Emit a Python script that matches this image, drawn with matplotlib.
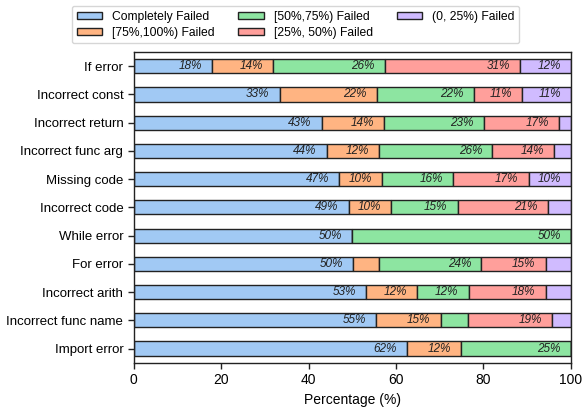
import matplotlib
matplotlib.use("Agg")
import matplotlib.pyplot as plt
import numpy as np

categories = ["If error", "Incorrect const", "Incorrect return", "Incorrect func arg",
              "Missing code", "Incorrect code", "While error", "For error",
              "Incorrect arith", "Incorrect func name", "Import error"]
series_names = ["Completely Failed", "[75%,100%) Failed", "[50%,75%) Failed",
                "[25%, 50%) Failed", "(0, 25%) Failed"]
completely = [17.9, 33.4, 43.0, 44.1, 47.0, 49.2, 50.0, 50.2, 53.1, 55.4, 62.4]
p75_100 = [14.0, 22.2, 14.2, 12.0, 9.8, 9.7, 0.0, 5.8, 11.7, 14.8, 12.5]
p50_75 = [25.6, 22.2, 22.9, 25.9, 16.2, 15.2, 50.0, 23.5, 11.8, 6.3, 25.1]
p25_50 = [30.8, 11.1, 17.2, 14.1, 17.3, 20.6, 0.0, 14.7, 17.6, 19.2, 0.0]
p0_25 = [11.7, 11.1, 2.7, 3.9, 9.7, 5.3, 0.0, 5.8, 5.8, 4.3, 0.0]

colors = ["#a1c9f4", "#ffb482", "#8de5a1", "#ff9f9b", "#d0bbff"]

plt.rcParams['font.family'] = ['Liberation Sans', 'DejaVu Sans']

fig = plt.figure(figsize=(5.82, 4.07), dpi=100)
ax = fig.add_axes([0.2297, 0.109, 0.981 - 0.2297, 0.872 - 0.109])

y = np.arange(len(categories))
left = np.zeros(len(categories))
handles = []
for name, vals, c in zip(series_names, [completely, p75_100, p50_75, p25_50, p0_25], colors):
    vals = np.array(vals)
    bars = ax.barh(y, vals, left=left, height=0.5, color=c, edgecolor="#222222",
                   linewidth=1.0, label=name)
    handles.append(bars)
    for yi, l, v in zip(y, left, vals):
        if round(v) >= 10:
            ax.text(l + v - 2.3, yi, f"{v:.0f}%", ha="right", va="center",
                    fontsize=8.5, style="italic", color="#222222")
    left = left + vals

ax.set_yticks(y)
ax.set_yticklabels(categories, fontsize=9.5)
ax.set_ylim(len(categories) - 0.5, -0.5)
ax.set_xlim(0, 100)
ax.set_xticks([0, 20, 40, 60, 80, 100])
ax.tick_params(axis='x', labelsize=10, direction='out', length=4, width=1, color="#222222")
ax.tick_params(axis='y', direction='out', length=4, width=1, color="#222222")
ax.set_xlabel("Percentage (%)", fontsize=10)
for s in ax.spines.values():
    s.set_color("#222222")
    s.set_linewidth(1.0)

fig.legend(handles=handles, labels=series_names, loc="upper center",
           bbox_to_anchor=(0.5077, 1.0), ncol=3, fontsize=8.7, frameon=True,
           edgecolor="#cccccc", handlelength=2.1, handleheight=0.55,
           columnspacing=2.0, borderpad=0.4, labelspacing=0.3)

fig.savefig("out.png", dpi=100)
